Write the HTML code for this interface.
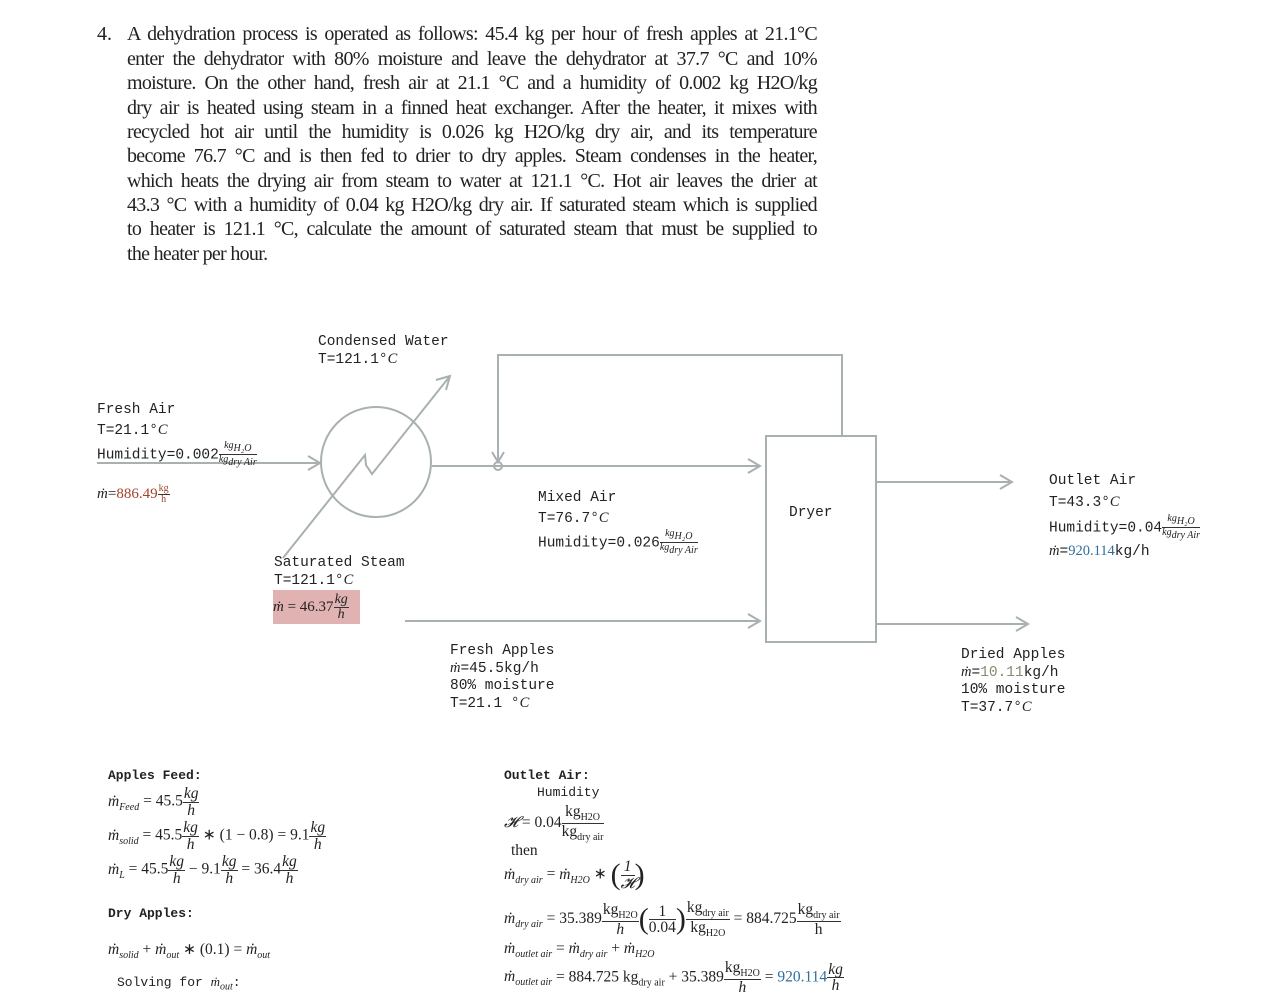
<!DOCTYPE html>
<html><head><meta charset="utf-8"><style>
body{margin:0;width:1273px;height:991px;background:#fff;position:relative;overflow:hidden;font-family:"Liberation Mono",monospace;color:#222}
.a{position:absolute;white-space:nowrap}
.m{font-size:14.5px;line-height:17px}
.p{font-family:"Liberation Serif",serif;font-size:20px;color:#222;position:absolute;left:127px;width:690px;text-align:justify;text-align-last:justify;white-space:nowrap;letter-spacing:-0.7px}
.s{font-family:"Liberation Serif",serif;font-style:italic}
.fr{display:inline-block;vertical-align:middle;text-align:center;font-family:"Liberation Serif",serif;line-height:1}
.fr>span{display:block}
.fr>span:first-child{border-bottom:1px solid #333;padding:0 1px}
.eq{font-family:"Liberation Serif",serif;font-size:15.5px}
.eq i{font-size:15.5px}
sub{font-size:10px}
</style></head><body>
<div class="a" style="left:97px;top:23px;font-family:'Liberation Serif',serif;font-size:20px">4.</div>
<div class="p" style="top:23px">A dehydration process is operated as follows: 45.4 kg per hour of fresh apples at 21.1°C</div>
<div class="p" style="top:48px">enter the dehydrator with 80% moisture and leave the dehydrator at 37.7 °C and 10%</div>
<div class="p" style="top:72px">moisture. On the other hand, fresh air at 21.1 °C and a humidity of 0.002 kg H2O/kg</div>
<div class="p" style="top:97px">dry air is heated using steam in a finned heat exchanger. After the heater, it mixes with</div>
<div class="p" style="top:121px">recycled hot air until the humidity is 0.026 kg H2O/kg dry air, and its temperature</div>
<div class="p" style="top:145px">become 76.7 °C and is then fed to drier to dry apples. Steam condenses in the heater,</div>
<div class="p" style="top:170px">which heats the drying air from steam to water at 121.1 °C. Hot air leaves the drier at</div>
<div class="p" style="top:194px">43.3 °C with a humidity of 0.04 kg H2O/kg dry air. If saturated steam which is supplied</div>
<div class="p" style="top:218px">to heater is 121.1 °C, calculate the amount of saturated steam that must be supplied to</div>
<div class="p" style="top:243px;text-align-last:left">the heater per hour.</div>

<svg class="a" style="left:0;top:0" width="1273" height="991">
<g stroke="#a8b0b2" stroke-width="2" fill="none">
<line x1="97" y1="463" x2="320" y2="463"/><polyline points="308,456 320,463 308,470"/>
<circle cx="376" cy="462" r="55"/>
<polyline points="283,558 365,455 366,465 372,474 450,376"/><polyline points="436,380 450,376 446,390"/>
<line x1="432" y1="466" x2="760" y2="466"/><polyline points="748,459 760,466 748,473"/>
<polyline points="498,462 498,355 842,355 842,437"/><polyline points="492,452 498,462 504,452"/><circle cx="498" cy="466" r="4"/>
<rect x="766" y="436" width="110" height="206"/>
<line x1="876" y1="482" x2="1012" y2="482"/><polyline points="1000,475 1012,482 1000,489"/>
<line x1="405" y1="621" x2="760" y2="621"/><polyline points="748,614 760,621 748,628"/>
<line x1="876" y1="624" x2="1028" y2="624"/><polyline points="1016,617 1028,624 1016,631"/>
</g></svg>

<div class="a m" style="left:318px;top:334px">Condensed Water<br>T=121.1°<span class="s">C</span></div>
<div class="a m" style="left:97px;top:400px;line-height:20px">Fresh Air<br>T=21.1°<span class="s">C</span><br>Humidity=0.002<span class="fr s" style="font-size:10px"><span>kg<sub>H₂O</sub></span><span>kg<sub>dry Air</sub></span></span></div>
<div class="a" style="left:97px;top:484px;font-family:'Liberation Serif',serif;font-size:15px"><i>ṁ</i>=<span style="color:#a0452a">886.49</span><span class="fr" style="font-size:10px;color:#a0452a"><span>kg</span><span>h</span></span></div>
<div class="a m" style="left:538px;top:488px;line-height:20px">Mixed Air<br>T=76.7°<span class="s">C</span><br>Humidity=0.026<span class="fr s" style="font-size:10px"><span>kg<sub>H₂O</sub></span><span>kg<sub>dry Air</sub></span></span></div>
<div class="a m" style="left:789px;top:505px">Dryer</div>
<div class="a m" style="left:1049px;top:471px;line-height:21px">Outlet Air<br>T=43.3°<span class="s">C</span><br>Humidity=0.04<span class="fr s" style="font-size:10px"><span>kg<sub>H₂O</sub></span><span>kg<sub>dry Air</sub></span></span><br><span class="s">ṁ</span>=<span style="color:#2f6f9c;font-family:'Liberation Serif',serif">920.114</span>kg/h</div>
<div class="a m" style="left:274px;top:555px">Saturated Steam<br>T=121.1°<span class="s">C</span></div>
<div class="a" style="left:273px;top:590px;width:87px;height:34px;background:#e1b2b2;font-family:'Liberation Serif',serif;font-size:15px;line-height:34px"><i>ṁ</i> = 46.37<span class="fr s" style="font-size:14px"><span>kg</span><span>h</span></span></div>
<div class="a m" style="left:450px;top:643px">Fresh Apples<br><span class="s">ṁ</span>=45.5kg/h<br>80% moisture<br>T=21.1 °<span class="s">C</span></div>
<div class="a m" style="left:961px;top:647px">Dried Apples<br><span class="s">ṁ</span>=<span style="color:#8a8a70">10.11</span>kg/h<br>10% moisture<br>T=37.7°<span class="s">C</span></div>

<div class="a" style="left:108px;top:768px;font-size:13px;font-weight:bold">Apples Feed:</div>
<div class="a eq" style="left:108px;top:786px"><i>ṁ<sub>Feed</sub></i> = 45.5<span class="fr s"><span>kg</span><span>h</span></span></div>
<div class="a eq" style="left:108px;top:820px"><i>ṁ<sub>solid</sub></i> = 45.5<span class="fr s"><span>kg</span><span>h</span></span> ∗ (1 − 0.8) = 9.1<span class="fr s"><span>kg</span><span>h</span></span></div>
<div class="a eq" style="left:108px;top:854px"><i>ṁ<sub>L</sub></i> = 45.5<span class="fr s"><span>kg</span><span>h</span></span> − 9.1<span class="fr s"><span>kg</span><span>h</span></span> = 36.4<span class="fr s"><span>kg</span><span>h</span></span></div>
<div class="a" style="left:108px;top:906px;font-size:13px;font-weight:bold">Dry Apples:</div>
<div class="a eq" style="left:108px;top:940px"><i>ṁ<sub>solid</sub></i> + <i>ṁ<sub>out</sub></i> ∗ (0.1) = <i>ṁ<sub>out</sub></i></div>
<div class="a" style="left:117px;top:974px;font-size:13px">Solving for <span class="s">ṁ<sub>out</sub></span>:</div>

<div class="a" style="left:504px;top:768px;font-size:13px;font-weight:bold">Outlet Air:</div>
<div class="a" style="left:537px;top:785px;font-size:13px">Humidity</div>
<div class="a eq" style="left:504px;top:804px"><i>𝓗</i> = 0.04<span class="fr"><span>kg<sub>H2O</sub></span><span>kg<sub>dry air</sub></span></span></div>
<div class="a eq" style="left:511px;top:842px">then</div>
<div class="a eq" style="left:504px;top:858px"><i>ṁ<sub>dry air</sub></i> = <i>ṁ<sub>H2O</sub></i> ∗ <span style="font-size:30px;vertical-align:middle">(</span><span class="fr s"><span>1</span><span>𝓗</span></span><span style="font-size:30px;vertical-align:middle">)</span></div>
<div class="a eq" style="left:504px;top:900px"><i>ṁ<sub>dry air</sub></i> = 35.389<span class="fr"><span>kg<sub>H2O</sub></span><span><i>h</i></span></span><span style="font-size:30px;vertical-align:middle">(</span><span class="fr"><span>1</span><span>0.04</span></span><span style="font-size:30px;vertical-align:middle">)</span><span class="fr"><span>kg<sub>dry air</sub></span><span>kg<sub>H2O</sub></span></span> = 884.725<span class="fr"><span>kg<sub>dry air</sub></span><span>h</span></span></div>
<div class="a eq" style="left:504px;top:940px"><i>ṁ<sub>outlet air</sub></i> = <i>ṁ<sub>dry air</sub></i> + <i>ṁ<sub>H2O</sub></i></div>
<div class="a eq" style="left:504px;top:960px"><i>ṁ<sub>outlet air</sub></i> = 884.725 kg<sub>dry air</sub> + 35.389<span class="fr"><span>kg<sub>H2O</sub></span><span><i>h</i></span></span> = <span style="color:#2f6f9c">920.114</span><span class="fr s"><span>kg</span><span>h</span></span></div>
</body></html>
